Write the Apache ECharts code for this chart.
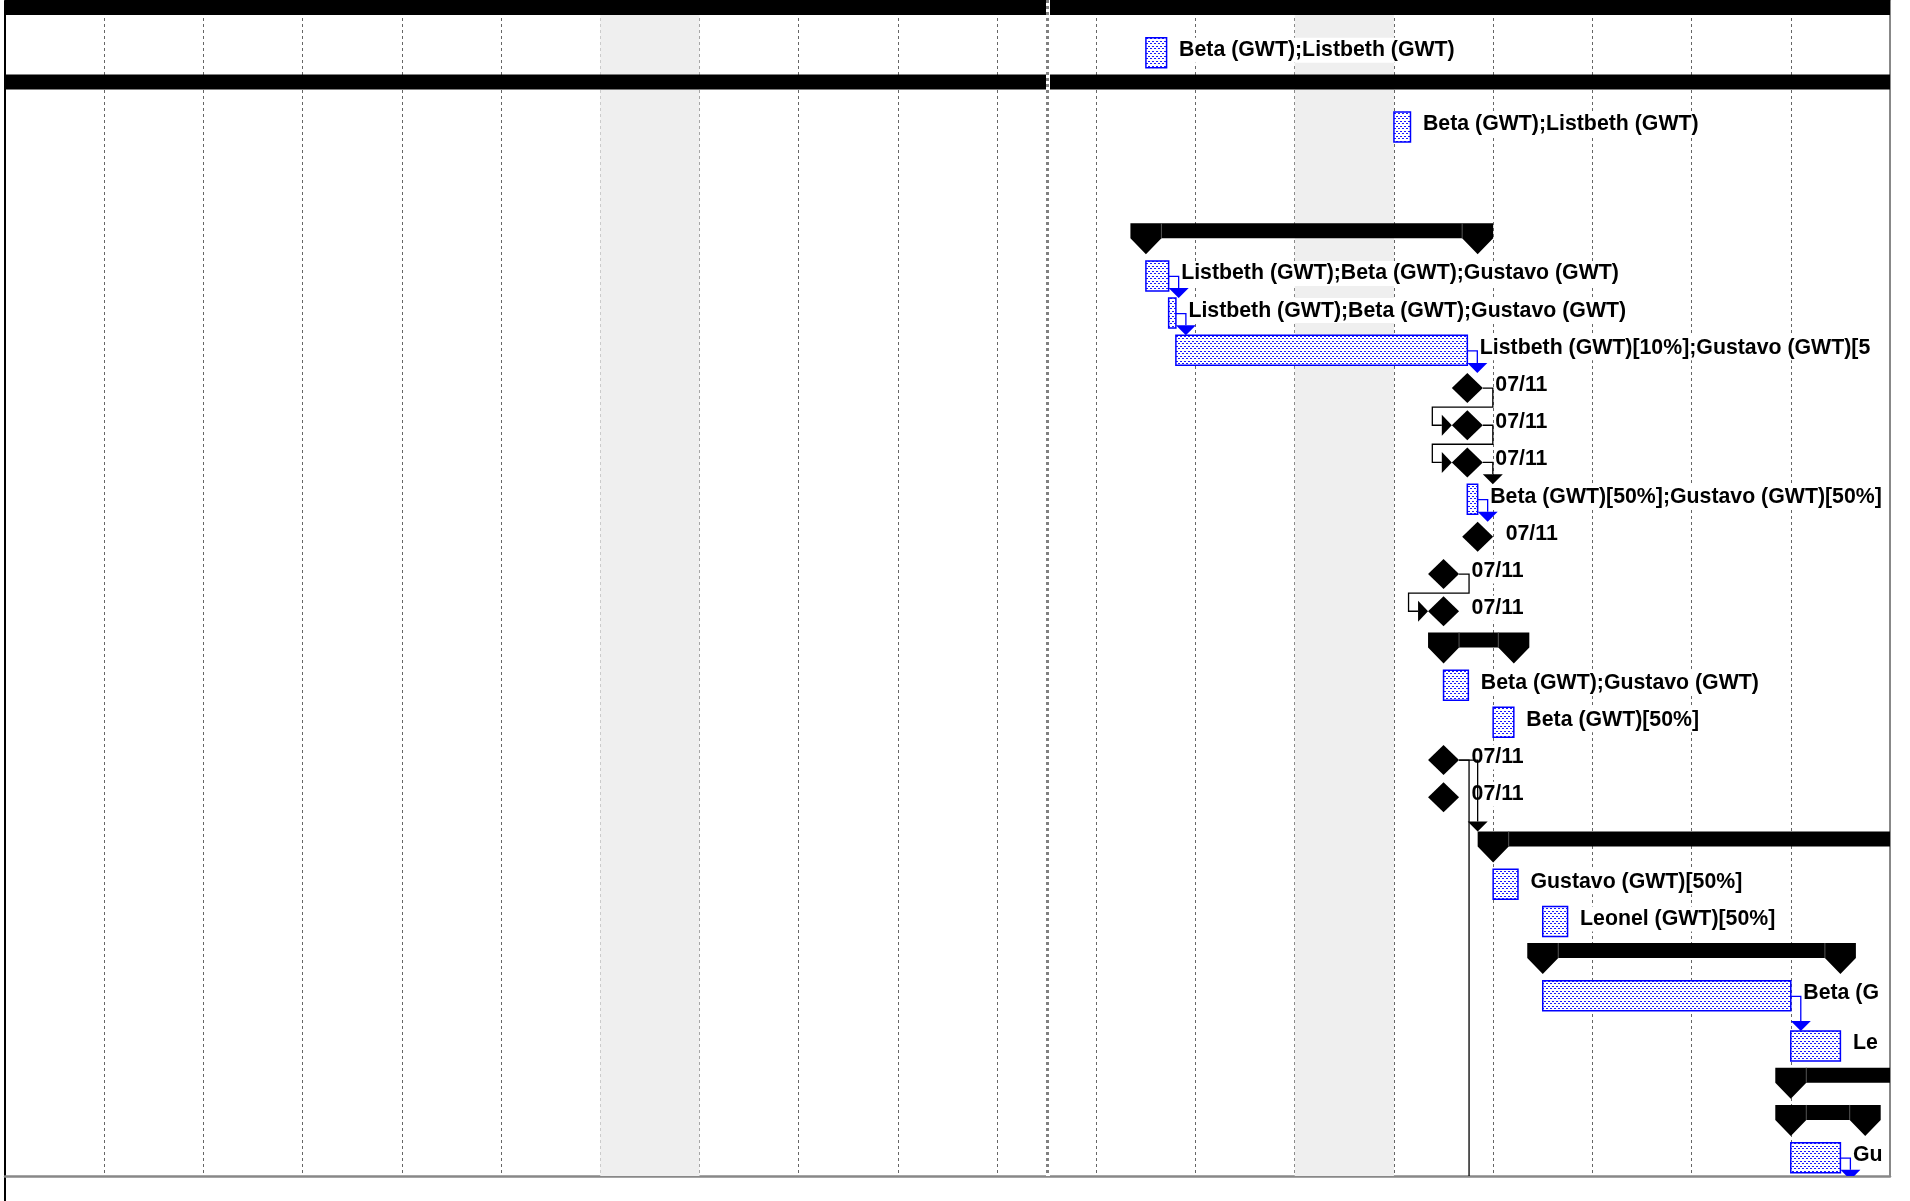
<!DOCTYPE html>
<html lang="en">

<head>
    <meta charset="UTF-8">
    <title>Gantt</title>
    <style>
        * {
            padding: 0;
            margin: 0;
            box-sizing: border-box;
        }

        html,
        body {
            width: 100%;
            height: 100%;
            overflow: hidden;
            background: #fff;
        }

        #box {
            width: 1910px;
            height: 1201px;
        }
    </style>
</head>

<body>
    <div id="box"></div>
</body>
<script src="https://cdn.jsdelivr.net/npm/echarts@6/dist/echarts.min.js"></script>
<script>
    // rows of the gantt, top to bottom (row position is in row units, two rows are taller)
    var rowKind = ['summary', 'task', 'summary', 'task', 'summary', 'task', 'task', 'task', 'milestone', 'milestone',
        'milestone', 'task', 'milestone', 'milestone', 'milestone', 'summary', 'task', 'task', 'milestone', 'milestone',
        'summary', 'task', 'task', 'summary', 'task', 'task', 'summary', 'summary', 'task', 'task', 'task'];
    var rowPos = [0, 1, 2, 3, 6, 7, 8, 9, 10, 11, 12, 13, 14, 15, 16, 17, 18, 19, 20, 21,
        22.35, 23.35, 24.35, 25.35, 26.35, 27.7, 28.7, 29.7, 30.7, 31.7, 33];
    var startTimes = ['06-20 08:00', '07-08 12:00', '06-20 08:00', '07-11 00:00', '07-08 12:00', '07-08 12:00',
        '07-08 17:30', '07-08 19:15', '07-11 17:45', '07-11 17:45', '07-11 17:45', '07-11 17:45', '07-11 20:15',
        '07-11 12:00', '07-11 12:00', '07-11 12:00', '07-11 12:00', '07-12 00:00', '07-11 12:00', '07-11 12:00',
        '07-12 00:00', '07-12 00:00', '07-12 12:00', '07-12 12:00', '07-12 12:00', '07-15 00:00', '07-15 00:00',
        '07-15 00:00', '07-15 00:00', '07-15 12:00', '07-11 12:00'];
    var endTimes = ['07-30 17:00', '07-08 17:00', '07-30 17:00', '07-11 04:00', '07-11 20:15', '07-08 17:30',
        '07-08 19:15', '07-11 17:45', '07-11 17:45', '07-11 17:45', '07-11 17:45', '07-11 20:15', '07-11 20:15',
        '07-11 12:00', '07-11 12:00', '07-12 05:00', '07-11 18:00', '07-12 05:00', '07-11 12:00', '07-11 12:00',
        '07-30 17:00', '07-12 06:00', '07-12 18:00', '07-15 12:00', '07-15 00:00', '07-15 12:00', '07-30 17:00',
        '07-15 18:00', '07-15 12:00', '07-15 18:00', '07-11 18:00'];
    var barLabels = ['', 'Beta (GWT);Listbeth (GWT)', '', 'Beta (GWT);Listbeth (GWT)', '',
        'Listbeth (GWT);Beta (GWT);Gustavo (GWT)', 'Listbeth (GWT);Beta (GWT);Gustavo (GWT)',
        'Listbeth (GWT)[10%];Gustavo (GWT)[5', '07/11', '07/11', '07/11', 'Beta (GWT)[50%];Gustavo (GWT)[50%]',
        '07/11', '07/11', '07/11', '', 'Beta (GWT);Gustavo (GWT)', 'Beta (GWT)[50%]', '07/11', '07/11', '',
        'Gustavo (GWT)[50%]', 'Leonel (GWT)[50%]', '', 'Beta (G', 'Le', '', '', 'Gu', '', ''];
    // predecessor row, successor row, how the link is routed
    var links = [[5, 6, 'down'], [6, 7, 'down'], [7, 8, 'down'], [8, 9, 'back'], [9, 10, 'back'], [10, 11, 'down'],
        [11, 12, 'down'], [13, 14, 'back'], [18, 20, 'down'], [18, 30, 'down'], [24, 25, 'down'], [28, 29, 'down']];
    var nonWorkingDays = ['07-03', '07-10'];
    var pageBreak = '07-07 12:10';
    var axisStart = '06-27';
    var axisEnd = '07-16';

    var DAY = 86400000;
    function tms(s) {
        var m = s.match(/(\d+)-(\d+)(?: (\d+):(\d+))?/);
        return Date.UTC(2011, +m[1] - 1, +m[2], +(m[3] || 0), +(m[4] || 0));
    }

    // dotted fill of the task bars
    var pat = document.createElement('canvas');
    pat.width = 4;
    pat.height = 5;
    var pg = pat.getContext('2d');
    pg.fillStyle = '#fff';
    pg.fillRect(0, 0, 4, 5);
    pg.fillStyle = '#1a1aff';
    pg.fillRect(0, 1, 2, 1);
    pg.fillRect(2, 3, 2, 1);

    var FONT = 'bold 21.3px "Liberation Sans", Arial, sans-serif';

    function geom(api, i) {
        var a = api.coord([tms(startTimes[i]), rowPos[i]]);
        var b = api.coord([tms(endTimes[i]), rowPos[i]]);
        var g = { c: a[1], xs: a[0], xe: b[0], kind: rowKind[i] };
        if (g.kind === 'task') {
            g.left = a[0]; g.right = b[0]; g.top = a[1] - 15.5;
        } else if (g.kind === 'milestone') {
            g.left = a[0] - 15.5; g.right = a[0] + 15.5; g.top = a[1] - 15;
        } else {
            g.left = a[0] - 15.5; g.right = b[0] + 15.5; g.top = a[1] - 16;
        }
        return g;
    }

    function renderRow(params, api) {
        var i = params.dataIndex;
        var g = geom(api, i);
        var kids = [];
        var c = g.c;
        if (g.kind === 'task') {
            kids.push({
                type: 'rect',
                shape: { x: g.xs, y: c - 15.5, width: Math.max(g.xe - g.xs, 1), height: 30 },
                style: { fill: { image: pat, repeat: 'repeat' }, stroke: '#0000ff', lineWidth: 1.5 }
            });
        } else if (g.kind === 'milestone') {
            kids.push({
                type: 'polygon',
                shape: { points: [[g.xs, c - 15], [g.xs + 15.5, c], [g.xs, c + 15], [g.xs - 15.5, c]] },
                style: { fill: '#000' }
            });
        } else {
            var top = c - 16, bot = c - 1, tip = c + 15;
            kids.push({
                type: 'polygon',
                shape: {
                    points: [[g.xs - 15.5, top], [g.xe + 15.5, top], [g.xe + 15.5, bot], [g.xe, tip], [g.xe - 15.5, bot],
                        [g.xs + 15.5, bot], [g.xs, tip], [g.xs - 15.5, bot]]
                },
                style: { fill: '#000' }
            });
            kids.push({ type: 'line', shape: { x1: g.xs + 15.5, y1: top, x2: g.xs + 15.5, y2: bot }, style: { stroke: '#555', lineWidth: 1 } });
            kids.push({ type: 'line', shape: { x1: g.xe - 15.5, y1: top, x2: g.xe - 15.5, y2: bot }, style: { stroke: '#555', lineWidth: 1 } });
        }
        if (barLabels[i]) {
            var lx = g.kind === 'milestone' ? g.xs + 28 : g.xe + 12.5;
            kids.push({
                type: 'text',
                z2: -1,
                style: {
                    text: barLabels[i], x: lx, y: c - 3, font: FONT, fill: '#000',
                    align: 'left', verticalAlign: 'middle', backgroundColor: '#fff', padding: [2, 0]
                }
            });
        }
        return { type: 'group', children: kids };
    }

    function renderLink(params, api) {
        var l = links[params.dataIndex];
        var a = geom(api, l[0]);
        var b = geom(api, l[1]);
        var col = a.kind === 'task' ? '#0000ff' : '#000';
        var pts, arrow;
        if (l[2] === 'down') {
            var xv = Math.max(a.right + 10, b.left);
            pts = [[a.right, a.c], [xv, a.c], [xv, b.top - 10]];
            arrow = [[xv - 10, b.top - 10], [xv + 10, b.top - 10], [xv, b.top]];
        } else {
            var x1 = a.right + 10, ym = a.c + 19, xb = b.left - 19.5;
            pts = [[a.right, a.c], [x1, a.c], [x1, ym], [xb, ym], [xb, b.c], [b.left - 10, b.c]];
            arrow = [[b.left - 10, b.c - 10.5], [b.left - 10, b.c + 10.5], [b.left, b.c]];
        }
        return {
            type: 'group',
            children: [
                { type: 'polyline', shape: { points: pts }, style: { stroke: col, lineWidth: 1.3, fill: null } },
                { type: 'polygon', shape: { points: arrow }, style: { fill: col } }
            ]
        };
    }

    var rowData = rowKind.map(function (k, i) {
        return [tms(startTimes[i]), tms(endTimes[i]), rowPos[i]];
    });
    var linkData = links.map(function (l) {
        return [tms(startTimes[l[1]]), rowPos[l[1]]];
    });
    var shade = nonWorkingDays.map(function (d) {
        return [{ xAxis: tms(d) }, { xAxis: tms(d) + DAY }];
    });

    var box = echarts.init(document.getElementById('box'));
    var option = {
        animation: false,
        grid: { left: 5, right: 20, top: 0, bottom: 25, outerBoundsMode: 'none' },
        xAxis: [{
            type: 'value',
            min: tms(axisStart),
            max: tms(axisEnd),
            interval: DAY,
            position: 'bottom',
            axisLine: { show: true, onZero: false, lineStyle: { color: '#888', width: 2.5 } },
            axisTick: { show: false },
            axisLabel: { show: false },
            splitLine: { show: true, lineStyle: { color: '#666', width: 1, type: [3, 3] } }
        }, {
            type: 'value',
            min: tms(axisStart),
            max: tms(axisEnd),
            interval: DAY,
            position: 'top',
            axisLine: { show: true, onZero: false, lineStyle: { color: '#666', width: 1 } },
            axisTick: { show: false },
            axisLabel: { show: false },
            splitLine: { show: false }
        }],
        yAxis: [{
            type: 'value',
            inverse: true,
            min: -0.43,
            max: 31.18,
            position: 'left',
            axisLine: { show: true, onZero: false, lineStyle: { color: '#000', width: 2 } },
            axisTick: { show: false },
            axisLabel: { show: false },
            splitLine: { show: false }
        }, {
            type: 'value',
            inverse: true,
            min: -0.43,
            max: 31.18,
            position: 'right',
            axisLine: { show: true, onZero: false, lineStyle: { color: '#888', width: 2 } },
            axisTick: { show: false },
            axisLabel: { show: false },
            splitLine: { show: false }
        }],
        graphic: [{
            type: 'line',
            shape: { x1: 5, y1: 1170, x2: 5, y2: 1201 },
            style: { stroke: '#000', lineWidth: 2 }
        }],
        series: [
            {
                name: 'shade',
                type: 'line',
                data: [],
                z: 1,
                silent: true,
                markArea: { silent: true, itemStyle: { color: '#efefef' }, data: shade }
            },
            {
                name: 'rows',
                type: 'custom',
                renderItem: renderRow,
                encode: { x: [0, 1], y: 2 },
                clip: true,
                z: 3,
                silent: true,
                data: rowData
            },
            {
                name: 'links',
                type: 'custom',
                renderItem: renderLink,
                encode: { x: 0, y: 1 },
                clip: true,
                z: 4,
                silent: true,
                data: linkData
            },
            {
                name: 'pagebreak',
                type: 'line',
                data: [],
                z: 10,
                silent: true,
                markLine: {
                    silent: true,
                    symbol: ['none', 'none'],
                    label: { show: false },
                    data: [
                        { xAxis: tms(pageBreak), lineStyle: { color: '#fff', width: 4, type: 'solid' } },
                        { xAxis: tms(pageBreak), lineStyle: { color: '#808080', width: 3, type: [3, 3] } }
                    ]
                }
            }
        ]
    };
    box.setOption(option);
</script>

</html>
